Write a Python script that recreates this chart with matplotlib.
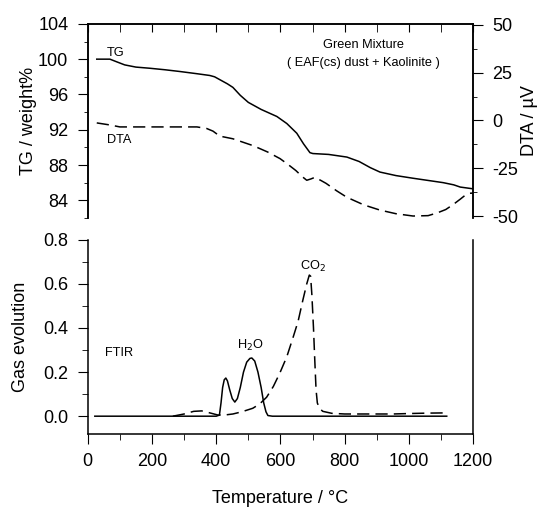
import matplotlib
matplotlib.use("Agg")
import matplotlib.pyplot as plt
from matplotlib.ticker import MultipleLocator

plt.rcParams['font.family'] = ['Liberation Sans', 'DejaVu Sans']
plt.rcParams['axes.unicode_minus'] = False

# TG curve (weight %)
tg_temp = [28, 69, 90, 115, 150, 193, 240, 287, 340, 380, 395, 415, 435, 452, 475, 500, 540, 589,
           620, 651, 672, 692, 701, 750, 807, 845, 880, 910, 960, 1013, 1060, 1107, 1140, 1160, 1200]
tg_val = [100.0, 100.0, 99.7, 99.35, 99.1, 98.97, 98.8, 98.6, 98.35, 98.15, 98.0, 97.6, 97.2, 96.8,
          95.9, 95.1, 94.3, 93.5, 92.7, 91.6, 90.4, 89.4, 89.3, 89.2, 88.9, 88.4, 87.7, 87.2, 86.8,
          86.5, 86.25, 86.0, 85.75, 85.5, 85.3]

# DTA curve (uV)
dta_temp = [28, 70, 100, 200, 340, 370, 390, 411, 452, 480, 515, 560, 599, 625, 648, 668, 682, 695,
            707, 725, 742, 775, 807, 860, 910, 960, 1013, 1060, 1088, 1115, 1138, 1160, 1175, 1190, 1200]
dta_val = [-1.3, -2.4, -3.4, -3.4, -3.4, -4.2, -5.6, -8.2, -9.6, -11.2, -13.2, -16.5, -20.0, -23.2,
           -26.2, -29.4, -31.3, -30.6, -29.8, -31.3, -32.9, -36.8, -40.2, -44.2, -46.9, -48.8,
           -50.0, -49.8, -48.4, -46.6, -44.0, -41.2, -39.2, -38.1, -38.0]

# FTIR gas evolution
h2o_temp = [22, 200, 400, 410, 415, 420, 425, 430, 435, 442, 450, 458, 466, 475, 485, 495, 505, 511,
            520, 530, 540, 548, 555, 561, 575, 800, 1118]
h2o_val = [0.0, 0.0, 0.0, 0.005, 0.06, 0.13, 0.165, 0.173, 0.16, 0.12, 0.08, 0.064, 0.08, 0.13, 0.2,
           0.245, 0.262, 0.264, 0.25, 0.2, 0.13, 0.06, 0.02, 0.003, 0.0, 0.0, 0.0]

co2_temp = [265, 300, 330, 355, 380, 406, 430, 452, 480, 514, 535, 557, 578, 598, 620, 640, 655, 670,
            682, 690, 694, 698, 703, 707, 711, 715, 722, 732, 760, 800, 869, 950, 1000, 1060, 1118]
co2_val = [0.0, 0.01, 0.022, 0.024, 0.015, 0.005, 0.006, 0.01, 0.02, 0.036, 0.055, 0.086, 0.135, 0.195,
           0.27, 0.36, 0.43, 0.527, 0.6, 0.64, 0.635, 0.55, 0.4, 0.255, 0.12, 0.06, 0.035, 0.022,
           0.013, 0.01, 0.01, 0.01, 0.012, 0.014, 0.015]

fig = plt.figure(figsize=(5.52, 5.08), dpi=100)
ax1 = fig.add_axes([0.159, 0.571, 0.698, 0.382])
ax3 = fig.add_axes([0.159, 0.146, 0.698, 0.382])

lw = 1.1
dash = (8, 4)
fs = 13
tfs = 9.2

# top panel: TG (left) and DTA (right)
ax1.plot(tg_temp, tg_val, color='black', lw=lw)
ax1.set_xlim(0, 1200)
ax1.set_ylim(82, 104)
ax1.set_yticks([84, 88, 92, 96, 100, 104])
ax1.yaxis.set_minor_locator(MultipleLocator(2))
ax1.xaxis.set_major_locator(MultipleLocator(200))
ax1.xaxis.set_minor_locator(MultipleLocator(100))
ax1.spines['bottom'].set_visible(False)
ax1.tick_params(axis='x', which='both', bottom=False, top=True, labelbottom=False,
                direction='in', length=6)
ax1.tick_params(axis='y', which='major', direction='out', length=7, pad=7, labelsize=fs)
ax1.tick_params(axis='y', which='minor', direction='out', length=3)
ax1.set_ylabel('TG / weight%', fontsize=fs, labelpad=1)

ax2 = ax1.twinx()
ax2.plot(dta_temp, dta_val, color='black', lw=lw, dashes=dash)
ax2.set_ylim(-51, 50.5)
ax2.set_yticks([-50, -25, 0, 25, 50])
ax2.yaxis.set_minor_locator(MultipleLocator(12.5))
ax2.spines['bottom'].set_visible(False)
ax2.tick_params(axis='y', which='major', direction='out', length=7, pad=7, labelsize=fs)
ax2.tick_params(axis='y', which='minor', direction='out', length=3)
ax2.set_ylabel('DTA / µV', fontsize=fs, labelpad=2)

ax1.text(59, 100.7, 'TG', fontsize=tfs, va='center')
ax1.text(59, 90.8, 'DTA', fontsize=tfs, va='center')
ax1.text(860, 101.6, 'Green Mixture', fontsize=tfs, ha='center', va='center')
ax1.text(860, 99.6, '( EAF(cs) dust + Kaolinite )', fontsize=tfs, ha='center', va='center')

# bottom panel: FTIR gas evolution
ax3.plot(h2o_temp, h2o_val, color='black', lw=lw)
ax3.plot(co2_temp, co2_val, color='black', lw=lw, dashes=dash)
ax3.set_xlim(0, 1200)
ax3.set_ylim(-0.08, 0.8)
ax3.set_yticks([0.0, 0.2, 0.4, 0.6, 0.8])
ax3.yaxis.set_minor_locator(MultipleLocator(0.1))
ax3.xaxis.set_major_locator(MultipleLocator(200))
ax3.xaxis.set_minor_locator(MultipleLocator(100))
ax3.spines['top'].set_visible(False)
ax3.tick_params(axis='both', which='major', direction='out', length=7, pad=7, labelsize=fs)
ax3.tick_params(axis='both', which='minor', direction='out', length=4)
ax3.tick_params(axis='y', which='both', right=False)
ax3.set_ylabel('Gas evolution', fontsize=fs, labelpad=10)
ax3.set_xlabel('Temperature / °C', fontsize=fs, labelpad=14)

ax3.text(53, 0.286, 'FTIR', fontsize=tfs, va='center')
ax3.text(505, 0.32, 'H$_2$O', fontsize=tfs, ha='center', va='center')
ax3.text(701, 0.677, 'CO$_2$', fontsize=tfs, ha='center', va='center')

for a in (ax1, ax2, ax3):
    for s in a.spines.values():
        s.set_linewidth(1.1)

fig.savefig('out.png', dpi=100)
